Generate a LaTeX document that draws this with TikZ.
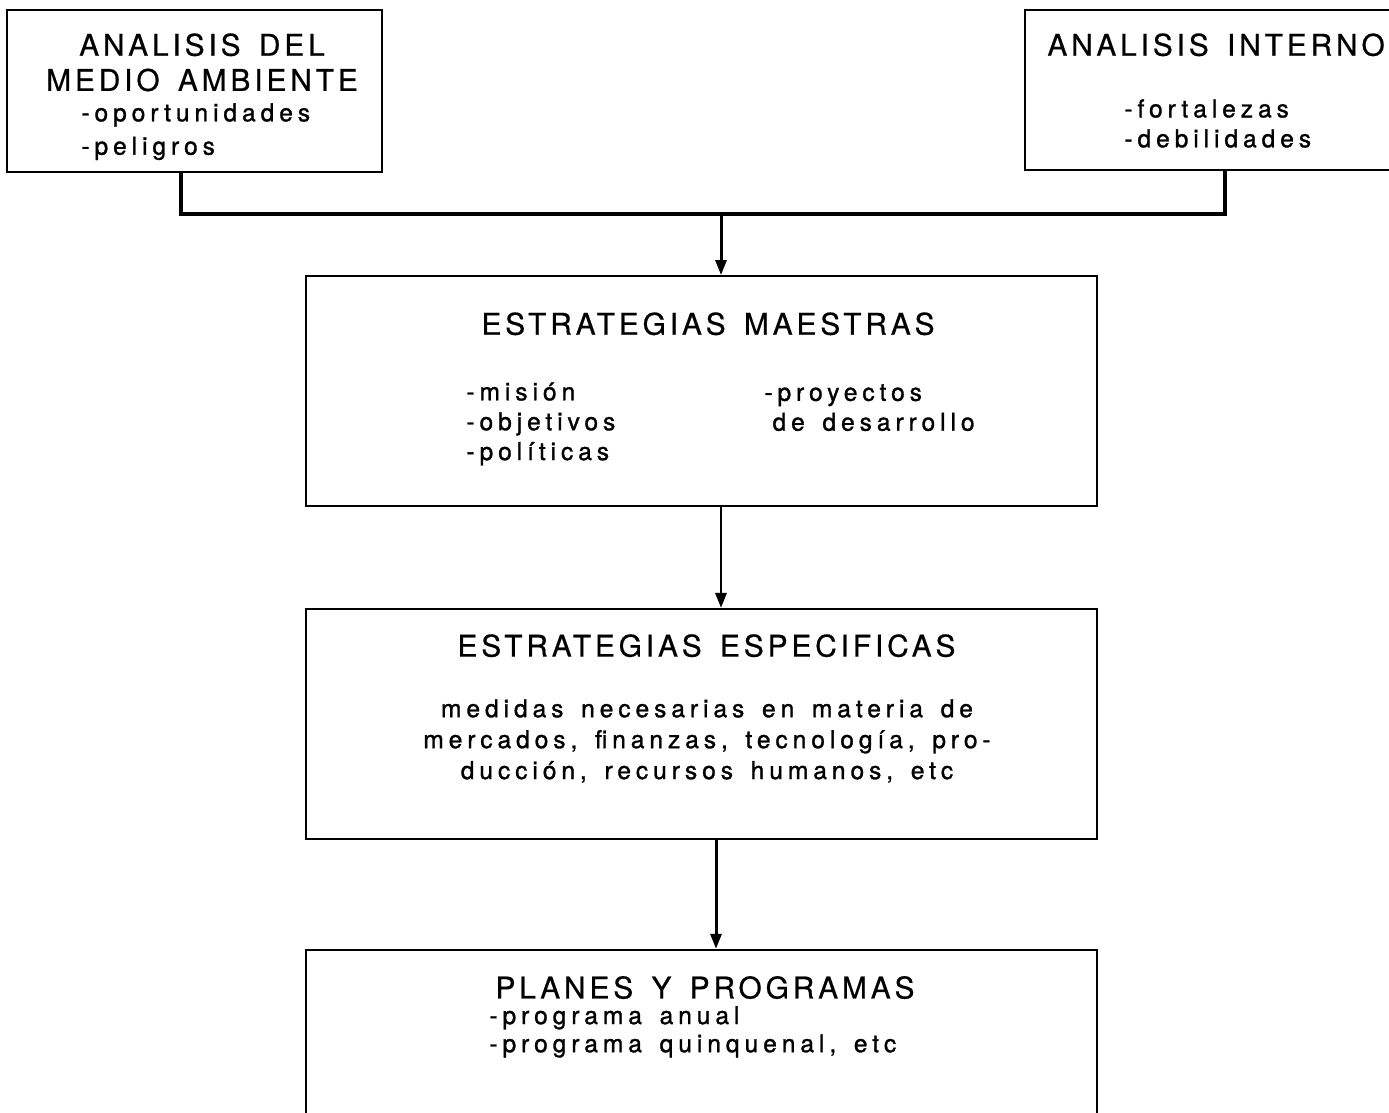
\documentclass[tikz,border=0pt]{standalone}
\usepackage{fontspec}
\setmainfont{TeX Gyre Heros}
\newfontfamily\TitleFont[LetterSpace=13, WordSpace=1.5, FakeBold=0.6]{TeX Gyre Heros}
\newfontfamily\ItemFont[LetterSpace=20, WordSpace=1.5, FakeBold=1.2]{TeX Gyre Heros}
\usetikzlibrary{positioning, arrows.meta}

\begin{document}
\begin{tikzpicture}[
        x = 0.02cm, y = -0.02cm,
        Box/.style = {rectangle, draw = black, line width = 1.1pt, inner sep = 0, minimum width = 15.82cm, minimum height = 4.6cm},
        % 
        Title/.style = {inner sep = 0, font = \TitleFont\fontsize{17}{20}\selectfont, align = center},
        % 
        Item/.style = {inner sep = 0, font = \ItemFont\fontsize{14}{17}\selectfont, align = left},
        % 
        Link/.style = {line width = 2.2pt},
        Arrow/.style = {-{Triangle[length = 0.3cm, width = 0.22cm]}, line width = 1.7pt},
    ]
        \useasboundingbox (0,0) rectangle (1389,1112);

        % Analisis
        \node[Box, minimum width = 7.5cm, minimum height = 3.24cm] (Medio) at (194.5,91) {};
        \node[Title] (MedioTitle) [below = 0.48cm of Medio.north, xshift = 0.15cm] {ANALISIS DEL\\MEDIO AMBIENTE};
        \node[Item, font = \ItemFont\fontsize{14}{19}\selectfont] (MedioList) [below right = 1.88cm and 1.5cm of Medio.north west] {-oportunidades\\-peligros};

        \node[Box, minimum width = 7.72cm, minimum height = 3.2cm] (Interno) at (1218,90) {};
        \node[Title] (InternoTitle) [below right = 0.48cm and 0.46cm of Interno.north west] {ANALISIS INTERNO};
        \node[Item] (InternoList) [below right = 1.8cm and 2cm of Interno.north west] {-fortalezas\\-debilidades};

        % Estrategias maestras
        \node[Box] (Maestras) at (701.5,391) {};
        \node[Title] (MaestrasTitle) [below = 0.74cm of Maestras.north, xshift = 0.13cm] {ESTRATEGIAS MAESTRAS};
        \node[Item] (MaestrasLeft) [below right = 2.14cm and 3.22cm of Maestras.north west] {-misión\\-objetivos\\-políticas};
        \node[Item] (MaestrasRight) [below right = 2.18cm and 9.18cm of Maestras.north west] {-proyectos\\\phantom{-}de desarrollo};

        % Estrategias especificas
        \node[Box] (Especificas) [below = 2.02cm of Maestras] {};
        \node[Title] (EspecificasTitle) [below = 0.52cm of Especificas.north, xshift = 0.1cm] {ESTRATEGIAS ESPECIFICAS};
        \node[Item, align = center, font = \ItemFont\fontsize{14}{17.6}\selectfont] (EspecificasText) [below = 1.82cm of Especificas.north, xshift = 0.11cm] {medidas necesarias en materia de\\mercados, finanzas, tecnología, pro-\\ducción, recursos humanos, etc};

        % Planes
        \node[Box] (Planes) [below = 2.18cm of Especificas] {};
        \node[Title] (PlanesTitle) [below = 0.54cm of Planes.north, xshift = 0.07cm] {PLANES Y PROGRAMAS};
        \node[Item, font = \ItemFont\fontsize{14}{16}\selectfont] (PlanesList) [below right = 1.14cm and 3.68cm of Planes.north west] {-programa anual\\-programa quinquenal, etc};

        % Connectors
        \coordinate (Join) at (721,214);
        \draw[Link] ([xshift = -0.27cm]Medio.south) |- (Join) -| ([xshift = 0.14cm]Interno.south);
        \draw[Arrow] (Join) -- (Join |- Maestras.north);
        \draw[Arrow] ([xshift = 0.39cm]Maestras.south) -- ([xshift = 0.39cm]Especificas.north);
        \draw[Arrow] ([xshift = 0.29cm]Especificas.south) -- ([xshift = 0.29cm]Planes.north);

    \end{tikzpicture}
\end{document}
